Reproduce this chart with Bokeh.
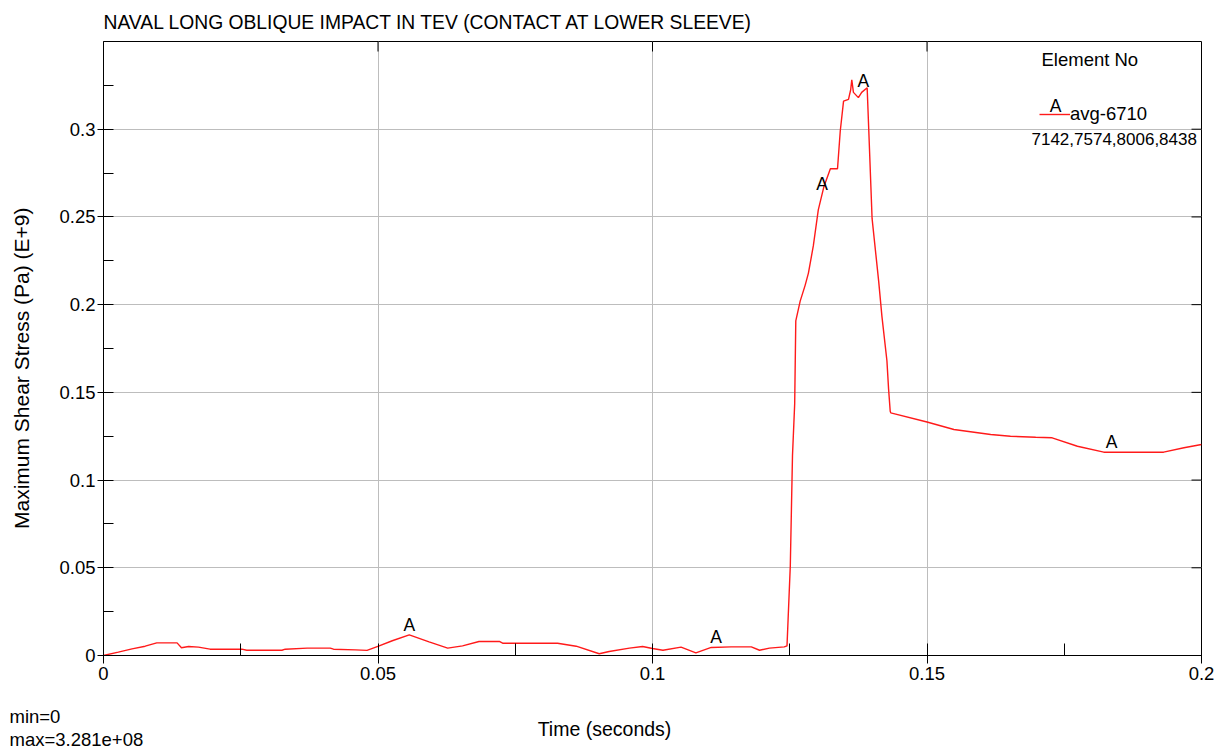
import numpy as np
from bokeh.plotting import figure
from bokeh.layouts import column, row
from bokeh.models import Range1d, FixedTicker, Label, Legend, LegendItem
from bokeh.embed import file_html
from bokeh.resources import INLINE
from bokeh.core.properties import value

# ---------------- data ----------------
time_s = [
    0.0, 0.0027, 0.0052, 0.0076, 0.0097, 0.0134, 0.0142, 0.0155, 0.0173, 0.0194,
    0.0252, 0.0261, 0.0325, 0.0331, 0.0371, 0.0413, 0.0419, 0.0459, 0.0480, 0.0501,
    0.0526, 0.0557, 0.0593, 0.0627, 0.0654, 0.0684, 0.0721, 0.0727, 0.0827, 0.0861,
    0.0903, 0.0921, 0.0958, 0.0982, 0.1000, 0.1019, 0.1052, 0.1079, 0.1107, 0.1143,
    0.1180, 0.1195, 0.1213, 0.1240, 0.1245,
    0.1247, 0.1251, 0.1255, 0.1259, 0.1261, 0.1269, 0.1278, 0.1284, 0.1293, 0.1302,
    0.1312, 0.1324, 0.1337, 0.1342, 0.1348, 0.1357, 0.1361, 0.1363, 0.1366, 0.1375,
    0.1381, 0.1391, 0.1394, 0.1400, 0.1412, 0.1418, 0.1427, 0.1430, 0.1433,
    0.1434, 0.1500, 0.1549, 0.1616, 0.1652, 0.1698, 0.1728, 0.1774, 0.1822, 0.1931,
    0.1968, 0.2000]
stress = [
    0.0, 0.0019, 0.0038, 0.0053, 0.0072, 0.0072, 0.0044, 0.0051, 0.0048, 0.0036,
    0.0036, 0.0030, 0.0030, 0.0036, 0.0042, 0.0042, 0.0036, 0.0032, 0.0029, 0.0053,
    0.0084, 0.0118, 0.0078, 0.0042, 0.0055, 0.0080, 0.0080, 0.0070, 0.0070, 0.0053,
    0.0010, 0.0023, 0.0042, 0.0051, 0.0040, 0.0030, 0.0048, 0.0015, 0.0046, 0.0049,
    0.0049, 0.0030, 0.0042, 0.0049, 0.0055,
    0.0207, 0.0511, 0.1140, 0.1435, 0.1908, 0.2020, 0.2110, 0.2180, 0.2336, 0.2540,
    0.2670, 0.2775, 0.2775, 0.2990, 0.3160, 0.3170, 0.3225, 0.3281, 0.3210, 0.3180,
    0.3210, 0.3236, 0.2990, 0.2490, 0.2133, 0.1930, 0.1680, 0.1520, 0.1392,
    0.1383, 0.1331, 0.1288, 0.1260, 0.1250, 0.1244, 0.1241, 0.1193, 0.1159, 0.1159,
    0.1184, 0.1203]
assert len(time_s) == len(stress)

marker_times = [0.0557, 0.1116, 0.1309, 0.1384, 0.1836]   # curve symbol "A" positions
marker_symbol = "A"

x_ticks = [0.0, 0.05, 0.1, 0.15, 0.2]
x_tick_labels = ["0", "0.05", "0.1", "0.15", "0.2"]
y_ticks = [0.0, 0.05, 0.1, 0.15, 0.2, 0.25, 0.3]
y_tick_labels = ["0", "0.05", "0.1", "0.15", "0.2", "0.25", "0.3"]

title_text = "NAVAL LONG OBLIQUE IMPACT IN TEV (CONTACT AT LOWER SLEEVE)"
x_label = "Time (seconds)"
y_label = "Maximum Shear Stress (Pa) (E+9)"
legend_title = "Element No"
legend_label = "avg-6710"
legend_label2 = "7142,7574,8006,8438"
min_text = "min=0"
max_text = "max=3.281e+08"

# ---------------- layout (pixels) ----------------
X0, X1 = 0.0, 0.2
Y0, Y1 = 0.0, 0.35
W, H = 1231, 753
TOP_H = 33          # strip holding the title
LEFT_W = 45         # strip holding the y-axis label
BOT_H = 53          # strip holding x label and min/max
MAIN_H = H - TOP_H - BOT_H
MAIN_W = W - LEFT_W
FL, FT, FR, FB = 103, 41, 1201, 655   # frame edges in page pixels

FONT = "Liberation Sans"


def to_data(px, py):
    return (X0 + (px - FL) / (FR - FL) * (X1 - X0),
            Y0 + (FB - py) / (FB - FT) * (Y1 - Y0))


def strip(w, h):
    f = figure(width=w, height=h, x_range=Range1d(0, w), y_range=Range1d(h, 0),
               output_backend="svg", toolbar_location=None,
               x_axis_location=None, y_axis_location=None,
               min_border=0, min_border_left=0, min_border_right=0,
               min_border_top=0, min_border_bottom=0)
    f.grid.visible = False
    f.outline_line_color = None
    f.background_fill_color = "white"
    f.border_fill_color = "white"
    return f


def text_label(fig, text, x, y, size, align="left", baseline="middle", angle=0.0,
               bg=None):
    lab = Label(x=x, y=y, text=text, text_font=FONT, text_font_size=size,
                text_color="black", text_align=align, text_baseline=baseline,
                angle=angle)
    if bg:
        lab.background_fill_color = bg
        lab.background_fill_alpha = 1.0
    fig.add_layout(lab)


# ---------------- main chart ----------------
p = figure(width=MAIN_W, height=MAIN_H, x_range=Range1d(X0, X1), y_range=Range1d(Y0, Y1),
           output_backend="svg", toolbar_location=None,
           min_border_left=FL - LEFT_W, min_border_right=W - FR,
           min_border_top=FT - TOP_H, min_border_bottom=H - BOT_H - FB)
p.background_fill_color = "white"
p.border_fill_color = "white"
p.outline_line_color = "black"
p.outline_line_width = 1

x_minor = [(a + b) / 2 for a, b in zip(x_ticks[:-1], x_ticks[1:])]
y_minor = [(a + b) / 2 for a, b in zip(y_ticks[:-1], y_ticks[1:])] + [y_ticks[-1] + 0.025]

xa = p.xaxis[0]
xa.ticker = FixedTicker(ticks=x_ticks, minor_ticks=x_minor)
xa.major_label_overrides = {t: l for t, l in zip(x_ticks, x_tick_labels)}
ya = p.yaxis[0]
ya.ticker = FixedTicker(ticks=y_ticks, minor_ticks=y_minor)
ya.major_label_overrides = {t: l for t, l in zip(y_ticks, y_tick_labels)}

for ax, tin, tout in ((xa, 12, 8), (ya, 10, 6)):
    ax.axis_line_color = "black"
    ax.major_tick_line_color = "black"
    ax.minor_tick_line_color = "black"
    ax.major_tick_in = tin
    ax.major_tick_out = tout
    ax.minor_tick_in = tin
    ax.minor_tick_out = 0
    ax.major_label_text_font = FONT
    ax.major_label_text_font_size = "18.5px"
    ax.major_label_text_color = "black"
xa.major_label_standoff = 3
ya.major_label_standoff = 2

p.xgrid.ticker = FixedTicker(ticks=x_ticks[1:-1])
p.ygrid.ticker = FixedTicker(ticks=y_ticks[1:])
for g in (p.xgrid[0], p.ygrid[0]):
    g.grid_line_color = "#bdbdbd"
    g.grid_line_width = 1

# inward tick marks on the top and right frame edges, taken from the tick lists
tick_len_y = 10 * (Y1 - Y0) / (FB - FT)
tick_len_x = 10 * (X1 - X0) / (FR - FL)
top_ticks = x_ticks[1:-1]
right_ticks = y_ticks[1:]
p.segment(x0=top_ticks, y0=[Y1] * len(top_ticks), x1=top_ticks,
          y1=[Y1 - tick_len_y] * len(top_ticks), line_color="black", line_width=1)
p.segment(x0=[X1] * len(right_ticks), y0=right_ticks, x1=[X1 - tick_len_x] * len(right_ticks),
          y1=right_ticks, line_color="black", line_width=1)

# curve
r = p.line(time_s, stress, line_color="#ff1a1a", line_width=1.4)

# "A" curve symbols
marker_y = np.interp(marker_times, time_s, stress)
p.text(x=marker_times, y=marker_y, text=[marker_symbol] * len(marker_times),
       text_font=value(FONT), text_font_size="17.5px", text_color="black",
       text_align="center", text_baseline="bottom")

# legend
legend = Legend(items=[LegendItem(label=legend_label, renderers=[r])],
                location=(1039 - FL, FB - 115 - 10))
legend.glyph_width = 31
legend.glyph_height = 20
legend.label_height = 20
legend.label_standoff = 0
legend.padding = 0
legend.margin = 0
legend.spacing = 0
legend.border_line_alpha = 0
legend.background_fill_alpha = 0
legend.label_text_font = FONT
legend.label_text_font_size = "18.5px"
legend.label_text_color = "black"
p.add_layout(legend)

lx, ly = to_data(1055, 115)
text_label(p, marker_symbol, lx, ly, "17.5px", align="center", baseline="bottom")
lx, ly = to_data(1041, 59)
text_label(p, legend_title, lx, ly, "18.5px")
lx, ly = to_data(1031, 138)
text_label(p, legend_label2, lx, ly, "17px", bg="white")

# ---------------- surrounding text strips ----------------
top = strip(W, TOP_H)
text_label(top, title_text, FL, 22, "19.3px")

left = strip(LEFT_W, MAIN_H)
text_label(left, y_label, 21, 388 - TOP_H, "21px", align="center", angle=np.pi / 2)

bottom = strip(W, BOT_H)
text_label(bottom, min_text, 9, 716 - (H - BOT_H), "18.5px")
text_label(bottom, max_text, 9, 739 - (H - BOT_H), "18.5px")
text_label(bottom, x_label, 604, 728 - (H - BOT_H), "19.5px", align="center")

layout = column(top, row(left, p, spacing=0), bottom, spacing=0)
open("out.html", "w").write(file_html(layout, INLINE))
